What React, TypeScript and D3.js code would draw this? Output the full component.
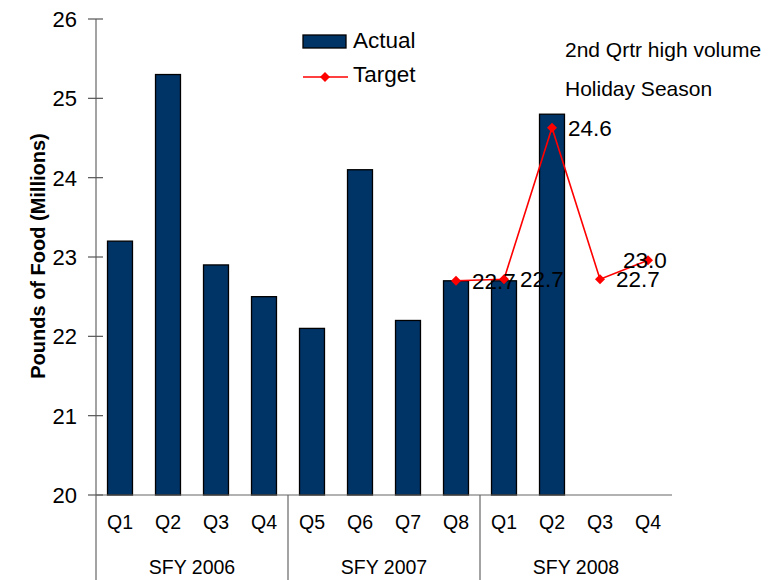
import React from "react";
import * as d3 from "d3";

const quarters = ["Q1", "Q2", "Q3", "Q4", "Q5", "Q6", "Q7", "Q8", "Q1", "Q2", "Q3", "Q4"];
const years = ["SFY 2006", "SFY 2007", "SFY 2008"];
const actual: (number | null)[] = [23.2, 25.3, 22.9, 22.5, 22.1, 24.1, 22.2, 22.7, 22.7, 24.8, null, null];
const target: (number | null)[] = [null, null, null, null, null, null, null, 22.7, 22.72, 24.63, 22.72, 22.96];
const targetLabels: (string | null)[] = [null, null, null, null, null, null, null, "22.7", "22.7", "24.6", "22.7", "23.0"];
const yTicks = [20, 21, 22, 23, 24, 25, 26];
const notes = ["2nd Qrtr high volume", "Holiday Season"];

const W = 780, H = 580;
const left = 96, right = 672, top = 19, bottom = 495;
const FONT = "'Liberation Sans', Arial, sans-serif";
const NAVY = "#003366";
const DIAMOND = "M0,-5L5,0L0,5L-5,0Z";

export default function App() {
  const idx = quarters.map((_, i) => i);
  const x = d3.scaleBand<number>().domain(idx).range([left, right]).paddingInner(0.48).paddingOuter(0.24);
  const band = (right - left) / quarters.length;
  const xc = (i: number) => left + (i + 0.5) * band;
  const y = d3.scaleLinear().domain([20, 26]).range([bottom, top]);

  const tpts = target.map((v, i) => (v == null ? null : ([xc(i), y(v)] as [number, number]))).filter(Boolean) as [number, number][];
  const line = d3.line();

  const labelDx = [0, 0, 0, 0, 0, 0, 0, 16, 16, 16, 16, -25];

  return (
    <svg width={W} height={H} style={{ position: "absolute", left: 0, top: 0, fontFamily: FONT }}>
      <rect width={W} height={H} fill="#fff" />
      {/* bars */}
      {actual.map((v, i) =>
        v == null ? null : (
          <rect key={i} x={x(i)} y={y(v)} width={x.bandwidth()} height={bottom - y(v)} fill={NAVY} stroke="#000" strokeWidth={1.3} />
        )
      )}
      {/* y axis */}
      <line x1={left} x2={left} y1={top} y2={bottom} stroke="#666" strokeWidth={1.2} />
      {yTicks.map((t) => (
        <g key={t}>
          <line x1={left - 8} x2={left + 7} y1={y(t)} y2={y(t)} stroke="#555" strokeWidth={1.2} />
          <text x={77} y={y(t)} dy="0.36em" textAnchor="end" fontSize={22} fill="#000">{t}</text>
        </g>
      ))}
      <text transform={`translate(45,256) rotate(-90)`} textAnchor="middle" fontSize={20} fontWeight="bold" fill="#000">
        Pounds of Food (Millions)
      </text>
      {/* x axis */}
      <line x1={left} x2={right} y1={bottom} y2={bottom} stroke="#666" strokeWidth={1.2} />
      {[0, 4, 8].map((k) => (
        <line key={k} x1={left + k * band} x2={left + k * band} y1={bottom} y2={H} stroke="#666" strokeWidth={1.2} />
      ))}
      {quarters.map((q, i) => (
        <text key={i} x={xc(i)} y={529} textAnchor="middle" fontSize={19.5} fill="#000">{q}</text>
      ))}
      {years.map((yr, k) => (
        <text key={yr} x={left + (k * 4 + 2) * band} y={574} textAnchor="middle" fontSize={19.5} fill="#000">{yr}</text>
      ))}
      {/* target line */}
      <path d={line(tpts) || ""} fill="none" stroke="#ff0000" strokeWidth={1.6} />
      {tpts.map((p, i) => (
        <path key={i} d={DIAMOND} transform={`translate(${p[0]},${p[1]})`} fill="#ff0000" />
      ))}
      {target.map((v, i) =>
        v == null ? null : (
          <text key={i} x={xc(i) + labelDx[i]} y={y(v)} dy="0.35em" fontSize={22.5} fill="#000">{targetLabels[i]}</text>
        )
      )}
      {/* legend */}
      <rect x={303} y={35} width={43} height={13} fill={NAVY} stroke="#000" strokeWidth={1.3} />
      <text x={353} y={48} fontSize={22.5} fill="#000">Actual</text>
      <line x1={303} x2={348} y1={77} y2={77} stroke="#ff0000" strokeWidth={1.6} />
      <path d={DIAMOND} transform="translate(325,77)" fill="#ff0000" />
      <text x={353} y={82} fontSize={22.5} fill="#000">Target</text>
      {/* notes */}
      {notes.map((n, i) => (
        <text key={i} x={565} y={57 + i * 39} fontSize={21} fill="#000">{n}</text>
      ))}
    </svg>
  );
}
